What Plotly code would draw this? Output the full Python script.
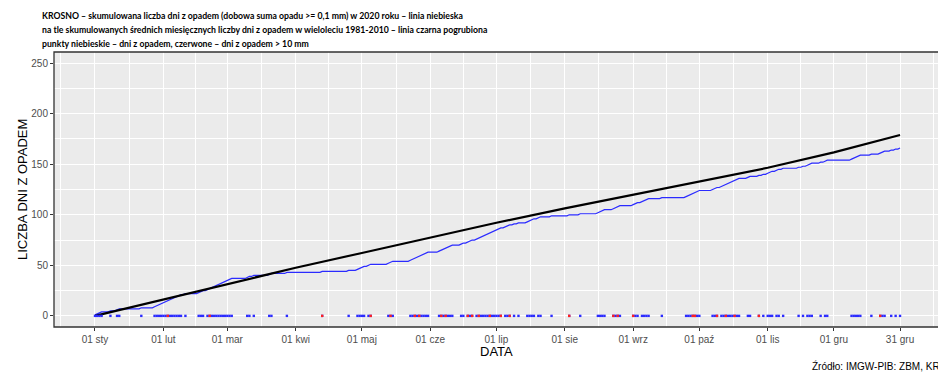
import plotly.graph_objects as go
import pandas as pd
import numpy as np

# ---- data ----
month_labels = ["01 sty", "01 lut", "01 mar", "01 kwi", "01 maj", "01 cze",
                "01 lip", "01 sie", "01 wrz", "01 paź", "01 lis", "01 gru", "31 gru"]
tick_dates = ["2020-01-01", "2020-02-01", "2020-03-01", "2020-04-01", "2020-05-01",
              "2020-06-01", "2020-07-01", "2020-08-01", "2020-09-01", "2020-10-01",
              "2020-11-01", "2020-12-01", "2020-12-31"]
y_ticks = [0, 50, 100, 150, 200, 250]

title_lines = [
    "KROSNO – skumulowana liczba dni z opadem (dobowa suma opadu >= 0,1 mm) w 2020 roku – linia niebieska",
    "na tle skumulowanych średnich miesięcznych liczby dni z opadem w wieloleciu 1981-2010 – linia czarna pogrubiona",
    "punkty niebieskie – dni z opadem, czerwone – dni z opadem > 10 mm",
]

# mean monthly number of days with precipitation 1981-2010
mean_days_1981_2010 = [16.0, 15.0, 16.6, 14.6, 15.2, 14.7, 14.2, 13.4, 12.9, 13.9, 15.2, 17.2]

# days of year 2020 with precipitation >= 0.1 mm (read from blue points / blue line)
rain_days = [1, 2, 3, 4, 8, 11, 12, 22, 28, 29, 30, 31,
             32, 33, 34, 35, 36, 37, 38, 39, 40, 42, 48, 49, 50, 52, 53, 54, 55, 56, 57, 58, 59, 60,
             61, 62, 63, 70, 71, 73, 80, 81, 88,
             104, 116, 120, 121,
             122, 123, 125, 126, 134, 135, 136, 144, 145, 146, 147, 148, 149, 150, 151, 152,
             157, 158, 159, 160, 161, 162, 163, 167, 168, 170, 171, 172, 174, 175, 176, 177, 178,
             179, 180, 181, 182,
             183, 184, 185, 187, 188, 189, 191, 193, 197, 198, 199, 200, 202, 203, 208,
             216, 221, 229, 230, 231, 232, 236, 237, 238, 239,
             245, 246, 247, 249, 250, 251, 252, 258, 269, 270, 271, 272, 273, 274,
             275, 281, 282, 283, 285, 286, 287, 288, 289, 290, 291, 292, 293, 297, 298, 302, 304,
             306, 307, 308, 310, 311, 313, 320, 322, 324, 325, 326, 330, 332, 333,
             344, 345, 346, 347, 348, 353, 357, 358, 359, 362, 364, 366]
# days with precipitation > 10 mm
heavy_days = [34, 53, 104, 126, 135, 146, 148, 158, 160, 170, 172, 175, 180, 185, 189,
              216, 236, 238, 245, 272, 273, 283, 287, 291, 302, 357]

# ---- derived series ----
days = pd.date_range("2020-01-01", "2020-12-31", freq="D")
is_rain = np.zeros(len(days), dtype=int)
for d in rain_days:
    is_rain[d - 1] = 1
cum_rain = np.cumsum(is_rain)

clim_dates = tick_dates
clim_vals = [0.0] + list(np.cumsum(mean_days_1981_2010))

rain_dates = [days[d - 1] for d in rain_days]
heavy_dates = [days[d - 1] for d in heavy_days]

fig = go.Figure()
fig.add_trace(go.Scatter(x=days, y=cum_rain, mode="lines",
                         line=dict(color="#2b2bff", width=1.2), showlegend=False))
fig.add_trace(go.Scatter(x=clim_dates, y=clim_vals, mode="lines",
                         line=dict(color="black", width=2.2), showlegend=False))
fig.add_trace(go.Scatter(x=rain_dates, y=[0] * len(rain_dates), mode="markers",
                         marker=dict(color="#2b2bff", size=2.4, symbol="square", line=dict(width=0)),
                         showlegend=False))
fig.add_trace(go.Scatter(x=heavy_dates, y=[0] * len(heavy_dates), mode="markers",
                         marker=dict(color="#ff2020", size=2.4, symbol="square", line=dict(width=0)),
                         showlegend=False))

minor_x = ["2019-12-16 12:00", "2020-01-16 12:00", "2020-02-15 12:00", "2020-03-16 12:00",
           "2020-04-16", "2020-05-16 12:00", "2020-06-16", "2020-07-16 12:00",
           "2020-08-16 12:00", "2020-09-16", "2020-10-16 12:00", "2020-11-16",
           "2020-12-16", "2021-01-15"]

axis_font = dict(family="Liberation Sans, Arial, sans-serif", size=10, color="#4d4d4d")

PW = 884.0   # plot area width in px
PH = 275.0   # plot area height in px
T = 52.0     # top margin
L = 54.0     # left margin

annotations = []
for i, (line, yc) in enumerate(zip(title_lines, [15.5, 29.5, 43.0])):
    annotations.append(dict(
        text=line, xref="paper", yref="paper", x=(40 - L) / PW, y=1 + (T - yc) / PH,
        xanchor="left", yanchor="middle", align="left", showarrow=False,
        font=dict(family="Lato, Open Sans, sans-serif", size=8.7, color="black", weight=700)))
annotations += [
    dict(text="DATA", xref="paper", yref="paper", x=0.5, y=-(351 - (T + PH)) / PH,
         xanchor="center", yanchor="middle", showarrow=False,
         font=dict(family="Liberation Sans, Arial, sans-serif", size=13, color="black")),
    dict(text="LICZBA DNI Z OPADEM", xref="paper", yref="paper", x=(22 - L) / PW,
         y=1 - (190 - T) / PH, xanchor="center", yanchor="middle", textangle=-90,
         showarrow=False,
         font=dict(family="Liberation Sans, Arial, sans-serif", size=13, color="black")),
    dict(text="Źródło: IMGW-PIB: ZBM, KRAKÓW", xref="paper", yref="paper", x=(810 - L) / PW,
         y=-(366 - (T + PH)) / PH, xanchor="left", yanchor="middle", showarrow=False,
         font=dict(family="Liberation Sans, Arial, sans-serif", size=10, color="black")),
]

fig.update_layout(
    width=938, height=374,
    margin=dict(l=L, r=0, t=T, b=374 - T - PH, autoexpand=False),
    paper_bgcolor="white", plot_bgcolor="#ebebeb",
    xaxis=dict(
        range=["2019-12-13 10:00", "2021-01-17 05:00"],
        tickvals=tick_dates, ticktext=month_labels,
        showgrid=True, gridcolor="white", gridwidth=1.1,
        ticks="outside", ticklen=3, tickcolor="#333333", tickwidth=1,
        tickfont=axis_font, zeroline=False, showline=False, automargin=False,
        minor=dict(tickvals=minor_x, showgrid=True, gridcolor="white", gridwidth=0.5),
    ),
    yaxis=dict(
        range=[-11, 261],
        tickvals=y_ticks,
        showgrid=True, gridcolor="white", gridwidth=1.1,
        ticks="outside", ticklen=3, tickcolor="#333333", tickwidth=1,
        tickfont=axis_font, zeroline=False, showline=False, automargin=False,
        minor=dict(tickvals=[25, 75, 125, 175, 225], showgrid=True, gridcolor="white", gridwidth=0.5),
    ),
    shapes=[dict(type="rect", xref="paper", yref="paper", x0=0, x1=1.02, y0=0, y1=1,
                 line=dict(color="#333333", width=1.3), fillcolor="rgba(0,0,0,0)", layer="above")],
    annotations=annotations,
)

fig.write_html("out.html", config={"displayModeBar": False},
               post_script="document.body.style.margin='0px';")
